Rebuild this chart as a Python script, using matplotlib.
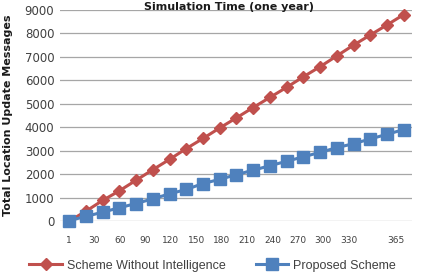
import numpy as np
import matplotlib.pyplot as plt

# values, 21 evenly spaced samples over the year
without_intelligence = [0, 420, 880, 1290, 1740, 2190, 2630, 3090, 3520, 3970, 4400,
                        4840, 5270, 5700, 6150, 6580, 7040, 7500, 7930, 8360, 8800]
proposed_scheme = [20, 200, 380, 570, 750, 950, 1160, 1350, 1600, 1780, 1980,
                   2170, 2360, 2550, 2740, 2930, 3130, 3300, 3500, 3700, 3900]
day_labels = ['1', '30', '60', '90', '120', '150', '180', '210', '240', '270', '300', '330', '365']
y_ticks = [0, 1000, 2000, 3000, 4000, 5000, 6000, 7000, 8000, 9000]

RED = '#C0504D'
BLUE = '#4F81BD'
TEXT = '#404040'

fig = plt.figure(figsize=(4.28, 2.74), dpi=100)
ax = fig.add_axes([0.140, 0.193, 0.823, 0.771])

idx = np.arange(len(without_intelligence))
ax.plot(idx, without_intelligence, color=RED, lw=2.2, marker='D', ms=6,
        label='Scheme Without Intelligence', clip_on=False, zorder=3)
ax.plot(idx, proposed_scheme, color=BLUE, lw=2.2, marker='s', ms=9,
        label='Proposed Scheme', clip_on=False, zorder=4)

ax.set_xlim(-0.55, 20.5)
ax.set_ylim(0, 9000)
ax.set_yticks(y_ticks)
ax.set_yticklabels([str(v) for v in y_ticks], fontsize=8.5, color=TEXT)

# labels in the source are not aligned with the markers
tick_pos = list(np.linspace(0, 16.7, 12)) + [19.5]
ax.set_xticks(tick_pos)
ax.set_xticklabels(day_labels, fontsize=6.5, color=TEXT)

ax.grid(axis='y', color='#A6A6A6', lw=0.9)
ax.set_axisbelow(True)
for s in ax.spines.values():
    s.set_visible(False)
ax.tick_params(length=0, pad=4)
ax.tick_params(axis='x', pad=11)

fig.text(0.535, 0.975, 'Simulation Time (one year)', ha='center', va='center',
         fontsize=8, fontweight='bold', color='#1a1a1a')
fig.text(0.018, 0.58, 'Total Location Update Messages', rotation=90, ha='center',
         va='center', fontsize=8, fontweight='bold', color='#1a1a1a')

fig.legend(loc='center', bbox_to_anchor=(0.497, 0.03), ncol=2, frameon=False,
           prop={'family': 'Liberation Sans', 'size': 9}, handlelength=2.6,
           columnspacing=2.4, handletextpad=0.4, labelcolor=TEXT)

fig.savefig('out.png', dpi=100)
